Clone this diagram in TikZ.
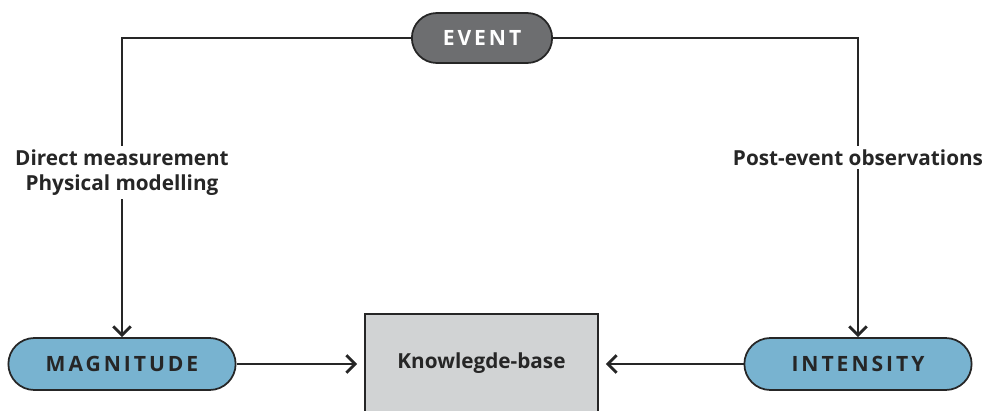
\documentclass[tikz,border=0pt]{standalone}
\usepackage{fontspec}
\setmainfont{Open Sans}
\newfontfamily\spacedfont[LetterSpace=14]{Open Sans}
\usepackage{tikz}
\usetikzlibrary{arrows.meta,shapes.misc}

\definecolor{eventgrey}{HTML}{6D6E70}
\definecolor{pillblue}{HTML}{78B3D0}
\definecolor{kbgrey}{HTML}{D1D3D4}

\tikzset{
    pill/.style={rounded rectangle, draw=black!85, line width=1pt,
        minimum width=4.78cm, minimum height=1.04cm,
        font=\spacedfont\bfseries\fontsize{12}{14}\selectfont},
    sidetext/.style={fill=white, align=center, inner sep=2pt,
        font=\bfseries\fontsize{11.8}{14.5}\selectfont, text=black!85},
    linkline/.style={line width=1.6pt, draw=black!85}
}

\begin{document}
\begin{tikzpicture}[x=0.02cm, y=-0.02cm, >={Straight Barb[length=5pt,width=10pt]}]
        \useasboundingbox (0,0) rectangle (988,410);

        % boxes
        \node[pill, fill=eventgrey, text=white, minimum width=3.04cm, minimum height=1cm] (event) at (482,38) {EVENT};
        \node[pill, fill=pillblue, text=black!85] (magnitude) at (122,364) {MAGNITUDE};
        \node[pill, fill=pillblue, text=black!85] (intensity) at (858,364) {INTENSITY};
        \node[draw=black!85, line width=1pt, fill=kbgrey, minimum width=4.66cm, minimum height=1.96cm,
              font=\bfseries\fontsize{11.8}{14}\selectfont, text=black!85] (kb) at (481.5,363) {Knowlegde-base};

        % event to magnitude and intensity
        \draw[->][linkline] (event.west) -| (magnitude.north)
            node[sidetext, pos=0.725] {Direct measurement\\Physical modelling};
        \draw[->][linkline] (event.east) -| (intensity.north)
            node[sidetext, pos=0.70] {Post-event observations};

        % into the knowledge-base
        \draw[->][linkline, shorten >=4pt] (magnitude.east) -- (magnitude.east -| kb.west);
        \draw[->][linkline, shorten >=4pt] (intensity.west) -- (intensity.west -| kb.east);
    \end{tikzpicture}
\end{document}
